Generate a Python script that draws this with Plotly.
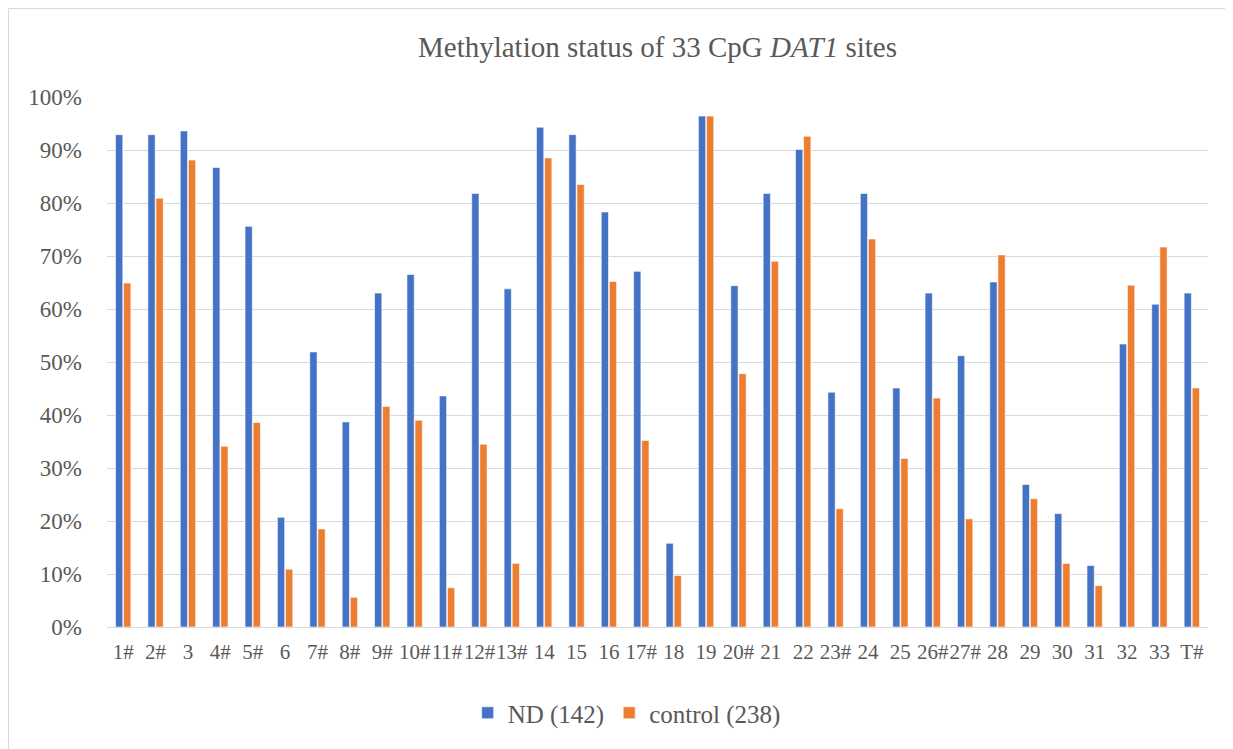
import plotly.graph_objects as go

categories = ["1#", "2#", "3", "4#", "5#", "6", "7#", "8#", "9#", "10#", "11#", "12#", "13#",
              "14", "15", "16", "17#", "18", "19", "20#", "21", "22", "23#", "24", "25", "26#",
              "27#", "28", "29", "30", "31", "32", "33", "T#"]

nd_values = [92.9, 92.9, 93.6, 86.7, 75.6, 20.7, 51.9, 38.7, 63.0, 66.5, 43.6, 81.8, 63.8,
             94.3, 92.9, 78.3, 67.1, 15.8, 96.4, 64.4, 81.8, 90.1, 44.3, 81.8, 45.1, 63.0,
             51.2, 65.1, 26.9, 21.4, 11.6, 53.4, 60.9, 63.0]

control_values = [64.9, 80.9, 88.1, 34.1, 38.6, 10.9, 18.5, 5.6, 41.6, 39.0, 7.4, 34.5, 12.0,
                  88.5, 83.5, 65.2, 35.2, 9.7, 96.4, 47.8, 69.0, 92.6, 22.3, 73.2, 31.8, 43.2,
                  20.4, 70.2, 24.2, 12.0, 7.8, 64.5, 71.7, 45.1]

series_names = ["ND (142)", "control (238)"]
colors = ["#4472C4", "#ED7D31"]

font_family = "Liberation Serif, DejaVu Serif, serif"
text_color = "#595959"

fig = go.Figure()
for name, vals, col in zip(series_names, [nd_values, control_values], colors):
    fig.add_trace(go.Bar(
        x=categories, y=vals, name=name,
        marker=dict(color=col, line=dict(color="white", width=0.6)),
    ))

# page body has an 8px margin, so the figure starts at (8, 8) in the window
W, H = 1225, 741
ml, mr, mt, mb = 99, 25, 89, 122
pw, ph = W - ml - mr, H - mt - mb

fig.update_layout(
    width=W, height=H,
    margin=dict(l=ml, r=mr, t=mt, b=mb),
    paper_bgcolor="white", plot_bgcolor="white",
    barmode="group", bargap=0.5, bargroupgap=0.1,
    font=dict(family=font_family, color=text_color, size=20),
    title=dict(text="Methylation status of 33 CpG <i>DAT1</i> sites",
               x=0.5, xanchor="center", xref="paper", y=1 - 39 / H, yanchor="middle",
               font=dict(size=29, color=text_color, family=font_family)),
    legend=dict(orientation="h", x=0.472, xanchor="center", y=-(705 - (H - mb)) / ph, yanchor="middle",
                font=dict(size=25, color=text_color), itemwidth=30, traceorder="normal"),
    showlegend=True,
)
fig.update_xaxes(showgrid=False, showline=False, ticks="", tickangle=0,
                 tickfont=dict(size=21, color=text_color), ticklabelstandoff=10)
fig.update_yaxes(range=[0, 100], dtick=10, ticksuffix="%", showgrid=True, gridcolor="#D9D9D9",
                 gridwidth=1, zeroline=True, zerolinecolor="#D9D9D9", zerolinewidth=1,
                 tickfont=dict(size=23, color=text_color), ticks="", ticklabelstandoff=24)

# chart-area border along the top and left edges
fig.add_shape(type="rect", xref="paper", yref="paper",
              x0=(0.5 - ml) / pw, x1=(W + 20 - ml) / pw,
              y0=-(mb + 20) / ph, y1=1 + (mt - 0.5) / ph,
              line=dict(color="#D9D9D9", width=1), fillcolor="rgba(0,0,0,0)", layer="below")

fig.write_html("out.html")
